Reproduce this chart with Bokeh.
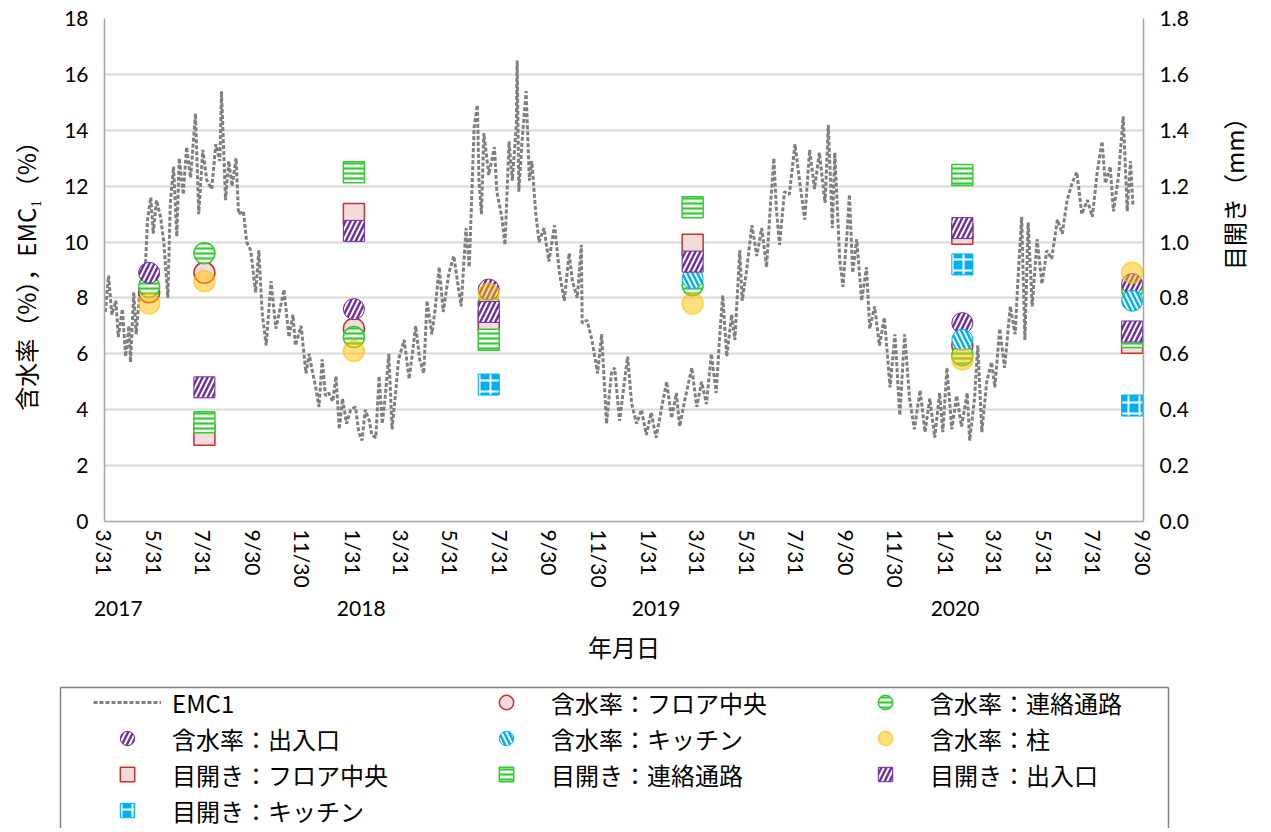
import math
import pandas as pd
from bokeh.plotting import figure
from bokeh.models import (Range1d, LinearAxis, FixedTicker, Legend, LegendItem,
                          NumeralTickFormatter)
from bokeh.embed import file_html
from bokeh.resources import INLINE

START = "2017-03-31"
END = "2020-09-30"

# EMC1 (days after 2017-03-31, value %)
emc_day = [1, 5, 9, 14, 17, 22, 26, 30, 32, 36,
           39, 46, 49, 53, 57, 60, 64, 69, 73, 78,
           81, 85, 89, 92, 97, 101, 106, 112, 116, 121,
           126, 132, 137, 142, 144, 149, 153, 157, 162, 165,
           171, 175, 180, 186, 190, 194, 199, 205, 211, 216,
           221, 227, 232, 235, 242, 248, 252, 255, 260, 264,
           268, 272, 276, 281, 285, 289, 293, 298, 303, 309,
           313, 317, 321, 326, 329, 334, 338, 342, 346, 350,
           354, 359, 362, 369, 375, 379, 383, 388, 393, 397,
           403, 407, 412, 417,
           424, 430, 439, 445, 449, 455, 459, 461, 464, 467,
           473, 480, 483, 489, 493, 498, 502, 507, 508, 510,
           514, 519, 523, 526, 531, 535, 541, 547, 554, 560,
           566, 572, 576, 582, 587, 588, 594, 600, 607, 612,
           618, 624, 628, 634, 640, 644, 649, 655, 661, 667,
           673, 679, 686, 692, 698, 704, 708, 714, 723, 729,
           735, 741, 747, 753, 757, 761, 766, 772, 776, 782,
           785, 790, 797, 803, 809, 815, 819, 824, 827, 831,
           837,
           843, 850, 856, 862, 868, 874, 880, 887, 891, 896,
           899, 905, 909, 914, 917, 921, 926, 932, 938, 942,
           948, 954, 960, 967, 973, 979, 985, 991, 997, 1004,
           1010, 1016, 1022, 1028, 1032, 1037, 1043, 1049, 1055, 1062,
           1065, 1071, 1075, 1080, 1086, 1092, 1096, 1102, 1108, 1115,
           1121, 1124, 1129, 1133, 1137, 1142, 1148, 1154, 1160, 1166,
           1173, 1179, 1185, 1191, 1197, 1203, 1210, 1216, 1222, 1228,
           1232, 1238, 1242, 1248, 1254, 1259, 1263, 1266]
emc_val = [7.5, 8.8, 7.4, 7.9, 6.6, 7.6, 5.9, 7.0, 5.7, 8.2,
           6.7, 9.1, 8.3, 10.8, 11.6, 10.3, 11.5, 10.9, 10.0, 8.0,
           11.4, 12.7, 10.2, 13.0, 11.7, 13.4, 12.3, 14.6, 11.0, 13.3,
           12.2, 11.9, 13.5, 12.9, 15.4, 11.5, 12.9, 12.0, 13.0, 11.0,
           11.1, 10.0, 9.7, 8.2, 9.7, 7.5, 6.3, 8.6, 6.9, 7.6,
           8.3, 6.6, 7.4, 6.3, 7.0, 5.3, 6.0, 5.5, 4.8, 4.1,
           5.8, 4.5, 4.6, 4.3, 5.2, 3.3, 4.4, 3.5, 4.0, 4.1,
           3.2, 2.9, 4.0, 3.6, 3.1, 3.0, 5.2, 3.5, 4.6, 6.0,
           3.3, 4.8, 5.8, 6.5, 5.1, 6.0, 7.0, 5.8, 5.3, 7.9,
           6.7, 7.6, 9.1, 7.5,
           8.9, 9.5, 7.7, 10.5, 9.1, 14.1, 14.9, 12.2, 11.0, 13.9,
           12.4, 13.4, 11.8, 10.9, 9.9, 13.6, 12.2, 14.2, 16.5, 11.8,
           13.6, 15.4, 12.2, 12.9, 11.0, 10.0, 10.5, 9.3, 10.6, 8.9,
           7.9, 9.6, 8.6, 8.0, 9.9, 7.1, 7.2, 6.5, 5.3, 6.7,
           3.5, 5.3, 5.5, 3.6, 5.0, 5.9, 4.2, 3.5, 4.0, 3.1,
           3.9, 3.0, 4.1, 5.0, 3.7, 4.6, 3.4, 4.3, 5.5, 4.1,
           5.0, 4.2, 6.0, 4.6, 6.5, 8.1, 5.9, 7.4, 6.5, 9.7,
           7.9, 8.9, 10.6, 9.5, 10.5, 9.1, 11.0, 13.0, 11.2, 9.9,
           11.8,
           11.7, 13.5, 12.1, 10.8, 13.3, 11.9, 13.2, 11.4, 14.2, 10.5,
           13.2, 9.4, 8.4, 10.3, 11.7, 8.9, 10.1, 7.9, 9.1, 6.9,
           7.7, 6.3, 7.3, 4.8, 6.7, 3.8, 6.7, 4.4, 3.3, 4.7,
           3.2, 4.4, 3.0, 4.6, 3.2, 5.5, 3.3, 4.5, 3.4, 4.6,
           2.9, 4.4, 6.3, 3.2, 5.0, 5.7, 4.8, 6.9, 5.5, 7.7,
           6.7, 8.4, 10.9, 6.5, 10.7, 7.7, 10.1, 8.5, 9.7, 9.4,
           10.8, 10.3, 11.5, 12.1, 12.5, 11.0, 11.5, 10.9, 12.5, 13.6,
           12.1, 12.7, 11.1, 12.3, 14.5, 11.1, 12.9, 11.3]

# axis ticks
tick_dates = ["2017-03-31", "2017-05-31", "2017-07-31", "2017-09-30", "2017-11-30",
              "2018-01-31", "2018-03-31", "2018-05-31", "2018-07-31", "2018-09-30", "2018-11-30",
              "2019-01-31", "2019-03-31", "2019-05-31", "2019-07-31", "2019-09-30", "2019-11-30",
              "2020-01-31", "2020-03-31", "2020-05-31", "2020-07-31", "2020-09-30"]
tick_labels = ["3/31", "5/31", "7/31", "9/30", "11/30",
               "1/31", "3/31", "5/31", "7/31", "9/30", "11/30",
               "1/31", "3/31", "5/31", "7/31", "9/30", "11/30",
               "1/31", "3/31", "5/31", "7/31", "9/30"]
year_dates = ["2017-04-17", "2018-02-10", "2019-02-08", "2020-02-11"]
year_labels = ["2017", "2018", "2019", "2020"]
left_ticks = [0, 2, 4, 6, 8, 10, 12, 14, 16, 18]
right_ticks = [0.0, 0.2, 0.4, 0.6, 0.8, 1.0, 1.2, 1.4, 1.6, 1.8]

# measurements: moisture content (%)
mc_floor_dates = ["2017-05-25", "2017-08-01", "2018-02-01", "2020-02-20"]
mc_floor = [8.2, 8.9, 6.9, 6.3]
mc_corr_dates = ["2017-05-25", "2017-08-01", "2018-02-01", "2018-07-17", "2019-03-25", "2020-02-20", "2020-09-16"]
mc_corr = [8.4, 9.6, 6.6, 7.8, 8.45, 5.95, 8.3]
mc_door_dates = ["2017-05-25", "2018-02-01", "2018-07-17", "2020-02-20", "2020-09-16"]
mc_door = [8.9, 7.6, 8.3, 7.1, 8.5]
mc_kit_dates = ["2019-03-25", "2020-02-20", "2020-09-16"]
mc_kit = [8.7, 6.5, 7.9]
mc_col_dates = ["2017-05-25", "2017-08-01", "2018-02-01", "2018-07-17", "2019-03-25", "2020-02-20", "2020-09-16"]
mc_col = [7.8, 8.6, 6.1, 8.15, 7.8, 5.8, 8.9]

# measurements: gap (mm)
gap_floor_dates = ["2017-08-01", "2018-02-01", "2018-07-17", "2019-03-25", "2020-02-20", "2020-09-16"]
gap_floor = [0.31, 1.1, 0.72, 0.99, 1.03, 0.64]
gap_corr_dates = ["2017-08-01", "2018-02-01", "2018-07-17", "2019-03-25", "2020-02-20", "2020-09-16"]
gap_corr = [0.355, 1.25, 0.65, 1.125, 1.24, 0.66]
gap_door_dates = ["2017-08-01", "2018-02-01", "2018-07-17", "2019-03-25", "2020-02-20", "2020-09-16"]
gap_door = [0.48, 1.04, 0.75, 0.93, 1.05, 0.68]
gap_kit_dates = ["2018-07-17", "2020-02-20", "2020-09-16"]
gap_kit = [0.49, 0.92, 0.415]


def ms(d):
    return int(pd.Timestamp(d).value // 10**6)


def xs(dates):
    return [ms(d) for d in dates]


DAY = 86400000
emc_x = [ms(START) + d * DAY for d in emc_day]

JP = "Noto Sans CJK JP"
NUM = "Lato"
AXIS_GRAY = "#A6A6A6"
BOX_GRAY = "#808080"

p = figure(width=1271, height=680, output_backend="svg", toolbar_location=None,
           x_range=Range1d(ms(START), ms(END)), y_range=Range1d(0, 18),
           min_border_left=104, min_border_right=128, min_border_top=18, min_border_bottom=159)
p.extra_y_ranges = {"gap": Range1d(0, 1.8)}
p.outline_line_color = None
p.background_fill_color = "white"
p.xgrid.visible = False
p.ygrid.ticker = FixedTicker(ticks=left_ticks)
p.ygrid.grid_line_color = "#D9D9D9"
p.ygrid.grid_line_width = 2

# bottom date axis
xa = p.xaxis[0]
xa.ticker = FixedTicker(ticks=xs(tick_dates))
xa.major_label_overrides = {ms(d): t for d, t in zip(tick_dates, tick_labels)}
xa.major_label_orientation = "vertical"
xa.major_label_standoff = 8

# left axis
ya = p.yaxis[0]
ya.ticker = FixedTicker(ticks=left_ticks)
ya.axis_label = "含水率（%），EMC₁（%）"
ya.major_label_standoff = 16
ya.axis_label_standoff = 18

# right axis
ra = LinearAxis(y_range_name="gap", ticker=FixedTicker(ticks=right_ticks),
                formatter=NumeralTickFormatter(format="0.0"), axis_label="目開き（mm）")
ra.major_label_standoff = 16
ra.axis_label_standoff = 42
if hasattr(ra, "axis_label_orientation"):
    ra.axis_label_orientation = math.pi / 2
p.add_layout(ra, "right")

# year axis
yr = LinearAxis(ticker=FixedTicker(ticks=xs(year_dates)),
                major_label_overrides={ms(d): t for d, t in zip(year_dates, year_labels)},
                axis_label="年月日")
yr.axis_line_color = None
yr.major_label_standoff = 10
yr.axis_label_standoff = 10
p.add_layout(yr, "below")

for ax in [xa, ya, ra, yr]:
    ax.major_tick_out = 0
    ax.major_tick_in = 0
    ax.minor_tick_out = 0
    ax.minor_tick_in = 0
    ax.major_label_text_font = NUM
    ax.major_label_text_font_size = "21px"
    ax.major_label_text_color = "black"
    ax.axis_label_text_font = JP
    ax.axis_label_text_font_size = "24px"
    ax.axis_label_text_font_style = "normal"
    ax.axis_label_text_color = "black"
for ax in [xa, ya, ra]:
    ax.axis_line_color = AXIS_GRAY
    ax.axis_line_width = 1.5

S = 21
PINK, RED = "#F2DCDB", "#C8312F"
GREEN = "#33CC33"
PURPLE = "#7030A0"
BLUE = "#00B0F0"
ORANGE = "#FFC000"

LINE_STYLE = dict(line_color="#7F7F7F", line_width=3, line_dash="4 2")
STYLES = {
    "mc_floor": dict(marker="circle", fill_color=PINK, line_color=RED, line_width=1.5),
    "mc_corr": dict(marker="circle", fill_color="white", hatch_pattern="-", hatch_color=GREEN,
                    hatch_scale=5, hatch_weight=2.2, line_color=GREEN, line_width=1.5),
    "mc_door": dict(marker="circle", fill_color=PURPLE, hatch_pattern="/", hatch_color="white",
                    hatch_scale=10, hatch_weight=2, line_color=PURPLE, line_width=1),
    "mc_kit": dict(marker="circle", fill_color=BLUE, hatch_pattern="\\", hatch_color="white",
                   hatch_scale=10, hatch_weight=2, line_color=BLUE, line_width=1),
    "mc_col": dict(marker="circle", fill_color=ORANGE, fill_alpha=0.5, line_color=ORANGE,
                   line_alpha=0.6, line_width=1.5),
    "gap_floor": dict(marker="square", fill_color=PINK, line_color=RED, line_width=1.5),
    "gap_corr": dict(marker="square", fill_color="white", hatch_pattern="-", hatch_color=GREEN,
                     hatch_scale=5, hatch_weight=2.2, line_color=GREEN, line_width=1.5),
    "gap_door": dict(marker="square", fill_color=PURPLE, hatch_pattern="/", hatch_color="white",
                     hatch_scale=10, hatch_weight=2, line_color=PURPLE, line_width=1),
    "gap_kit": dict(marker="square", fill_color=BLUE, hatch_pattern="+", hatch_color="white",
                    hatch_scale=11, hatch_weight=2, line_color=BLUE, line_width=1),
}
SERIES = {
    "mc_floor": (mc_floor_dates, mc_floor),
    "mc_corr": (mc_corr_dates, mc_corr),
    "mc_door": (mc_door_dates, mc_door),
    "mc_kit": (mc_kit_dates, mc_kit),
    "mc_col": (mc_col_dates, mc_col),
    "gap_floor": (gap_floor_dates, gap_floor),
    "gap_corr": (gap_corr_dates, gap_corr),
    "gap_door": (gap_door_dates, gap_door),
    "gap_kit": (gap_kit_dates, gap_kit),
}

p.line(emc_x, emc_val, **LINE_STYLE)
for name, (dates, vals) in SERIES.items():
    extra = {"y_range_name": "gap"} if name.startswith("gap") else {}
    p.scatter(xs(dates), vals, size=S, **extra, **STYLES[name])

# ---- legend strip (separate root below the chart) ----
q = figure(width=1265, height=148, output_backend="svg", toolbar_location=None,
           x_axis_type=None, y_axis_type=None, x_range=Range1d(0, 1), y_range=Range1d(0, 1),
           min_border_left=60, min_border_right=97, min_border_top=7, min_border_bottom=0)
q.outline_line_color = None
for side in ("above", "left", "right"):
    bx = LinearAxis(ticker=FixedTicker(ticks=[]), axis_line_color=BOX_GRAY, axis_line_width=1.5,
                    major_tick_out=0, major_tick_in=0, minor_tick_out=0, minor_tick_in=0,
                    major_label_text_font_size="0px", major_label_standoff=0)
    q.add_layout(bx, side)

# legend keys: same series, drawn outside this strip's ranges so only the keys show
k_line = q.line(emc_x, emc_val, **LINE_STYLE)
k = {name: q.scatter(xs(dates), vals, size=S, **STYLES[name])
     for name, (dates, vals) in SERIES.items()}

col1 = [LegendItem(label="EMC1", renderers=[k_line]),
        LegendItem(label="含水率：出入口", renderers=[k["mc_door"]]),
        LegendItem(label="目開き：フロア中央", renderers=[k["gap_floor"]]),
        LegendItem(label="目開き：キッチン", renderers=[k["gap_kit"]])]
col2 = [LegendItem(label="含水率：フロア中央", renderers=[k["mc_floor"]]),
        LegendItem(label="含水率：キッチン", renderers=[k["mc_kit"]]),
        LegendItem(label="目開き：連絡通路", renderers=[k["gap_corr"]])]
col3 = [LegendItem(label="含水率：連絡通路", renderers=[k["mc_corr"]]),
        LegendItem(label="含水率：柱", renderers=[k["mc_col"]]),
        LegendItem(label="目開き：出入口", renderers=[k["gap_door"]])]

common = dict(orientation="vertical", glyph_width=68, glyph_height=36, label_height=36,
              label_standoff=11, label_width=200, spacing=0, padding=0, margin=0,
              border_line_color=None, background_fill_alpha=0,
              label_text_font=JP, label_text_font_size="24px", label_text_color="black")
for items, loc in ((col1, (33, 0)), (col2, (412, 36)), (col3, (791, 36))):
    q.add_layout(Legend(items=items, location=loc, **common), "center")

open("out.html", "w").write(file_html([p, q], INLINE))
